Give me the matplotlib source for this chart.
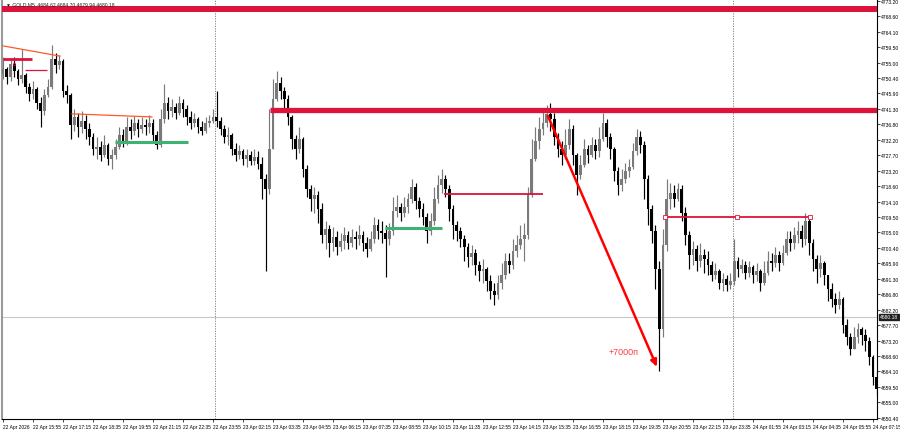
import matplotlib
matplotlib.use('Agg')
import matplotlib.pyplot as plt
from matplotlib.patches import FancyArrowPatch

plt.rcParams['font.family'] = ['Liberation Sans', 'DejaVu Sans']

# GOLD M5 chart, bars resampled to 10 min, prices
first_open = 4751.6
closes = [
    4753.1, 4750.7, 4754.6, 4752.5, 4750.2, 4751.3, 4747.8, 4745.7, 4747.2, 4743.1,
    4740.7, 4745.4, 4747.8, 4756.0, 4754.3, 4755.5, 4746.6, 4745.4, 4736.6, 4739.0,
    4736.0, 4737.8, 4735.4, 4733.1, 4729.6, 4730.1, 4727.8, 4730.7, 4726.6, 4727.8,
    4730.1, 4733.7, 4731.9, 4736.0, 4734.9, 4737.2, 4735.4, 4736.6, 4736.0, 4737.2,
    4733.7, 4730.7, 4738.4, 4743.1, 4740.7, 4741.9, 4740.2, 4743.1, 4741.3, 4739.0,
    4737.2, 4738.4, 4736.0, 4734.9, 4737.2, 4737.8, 4739.0, 4737.8, 4735.4, 4733.1,
    4733.7, 4729.6, 4727.8, 4729.0, 4726.6, 4727.8, 4726.0, 4727.2, 4725.1, 4720.7,
    4717.8, 4729.6, 4744.3, 4749.0, 4746.6, 4744.3, 4739.0, 4732.5, 4729.6, 4732.5,
    4723.7, 4717.8, 4714.8, 4716.0, 4711.9, 4704.3, 4706.0, 4701.9, 4703.7, 4700.7,
    4702.5, 4704.3, 4701.9, 4703.7, 4703.1, 4704.3, 4701.9, 4700.1, 4703.1, 4707.2,
    4705.4, 4704.8, 4703.1, 4705.4, 4711.3, 4712.5, 4710.7, 4712.5, 4714.8, 4718.4,
    4714.3, 4711.9, 4709.5, 4705.4, 4708.4, 4714.8, 4719.0, 4720.7, 4717.8, 4711.9,
    4707.2, 4705.4, 4703.1, 4700.7, 4697.8, 4699.0, 4695.4, 4693.7, 4694.2, 4690.7,
    4687.8, 4686.6, 4690.1, 4692.5, 4696.6, 4695.4, 4699.5, 4701.3, 4703.1, 4704.3,
    4716.0, 4726.6, 4731.9, 4735.4, 4737.2, 4739.9, 4738.4, 4733.1, 4729.6, 4727.8,
    4730.7, 4735.4, 4727.8, 4721.9, 4724.9, 4729.6, 4727.8, 4730.7, 4729.0, 4732.5,
    4737.2, 4733.1, 4729.6, 4723.1, 4719.0, 4720.7, 4723.1, 4724.3, 4729.0, 4733.1,
    4730.7, 4720.7, 4711.9, 4705.4, 4694.2, 4676.6, 4701.3, 4714.8, 4716.6, 4714.8,
    4717.8, 4710.7, 4704.3, 4698.4, 4700.1, 4696.6, 4698.4, 4697.2, 4695.4, 4692.5,
    4693.7, 4690.1, 4691.3, 4689.5, 4690.7, 4696.6, 4694.2, 4695.4, 4693.1, 4694.8,
    4692.5, 4693.7, 4690.1, 4693.1, 4696.6, 4696.0, 4698.4, 4696.0, 4699.0, 4703.1,
    4701.9, 4704.3, 4705.4, 4703.1, 4708.4, 4701.9, 4697.2, 4694.2, 4696.0, 4692.5,
    4688.4, 4685.4, 4683.6, 4685.4, 4677.8, 4674.2, 4670.7, 4674.2, 4676.6, 4674.8,
    4673.0, 4668.3, 4662.5, 4658.9,
]
highs = [
    4756.6, 4753.7, 4756.0, 4756.6, 4753.1, 4759.0, 4751.9, 4749.0, 4749.6, 4747.8,
    4744.9, 4747.2, 4750.2, 4760.2, 4757.8, 4757.2, 4756.0, 4748.4, 4746.0, 4741.3,
    4740.2, 4740.7, 4739.6, 4737.2, 4734.3, 4733.1, 4731.9, 4733.7, 4731.3, 4729.6,
    4732.5, 4736.0, 4735.4, 4739.0, 4738.4, 4739.3, 4738.4, 4739.0, 4738.4, 4739.6,
    4738.4, 4734.9, 4741.3, 4748.7, 4744.9, 4744.3, 4743.1, 4745.2, 4744.3, 4742.5,
    4740.7, 4740.2, 4739.0, 4737.8, 4739.0, 4739.6, 4741.3, 4746.6, 4739.0, 4736.6,
    4736.0, 4734.3, 4731.3, 4730.7, 4729.6, 4729.6, 4729.0, 4729.6, 4729.0, 4727.2,
    4722.2, 4741.3, 4750.2, 4752.5, 4750.7, 4747.8, 4745.4, 4739.6, 4733.7, 4736.0,
    4733.1, 4724.9, 4719.0, 4718.4, 4717.2, 4713.7, 4708.4, 4707.2, 4706.6, 4705.4,
    4704.8, 4706.6, 4705.4, 4706.0, 4705.4, 4707.2, 4705.4, 4703.7, 4705.4, 4709.5,
    4709.0, 4708.4, 4707.2, 4707.8, 4715.4, 4716.0, 4713.7, 4715.4, 4716.6, 4720.7,
    4719.6, 4715.4, 4713.7, 4710.7, 4710.7, 4718.4, 4721.9, 4723.7, 4721.9, 4719.0,
    4713.1, 4708.4, 4706.6, 4704.3, 4701.9, 4701.3, 4700.1, 4696.6, 4697.2, 4694.8,
    4692.5, 4690.1, 4692.5, 4696.0, 4699.0, 4699.0, 4703.1, 4704.3, 4707.2, 4707.8,
    4718.4, 4732.5, 4736.0, 4739.0, 4741.3, 4742.5, 4743.1, 4740.2, 4734.3, 4731.9,
    4735.4, 4738.4, 4736.6, 4728.4, 4727.8, 4732.5, 4730.7, 4733.1, 4732.5, 4736.0,
    4740.2, 4738.4, 4734.3, 4730.1, 4724.3, 4723.7, 4725.4, 4726.6, 4731.3, 4735.4,
    4734.9, 4731.9, 4721.9, 4713.1, 4707.2, 4696.6, 4706.0, 4720.7, 4719.6, 4719.0,
    4719.6, 4719.0, 4712.5, 4705.4, 4702.5, 4701.3, 4701.9, 4700.1, 4699.5, 4696.6,
    4696.0, 4694.2, 4693.1, 4692.5, 4693.1, 4703.1, 4697.8, 4697.2, 4696.6, 4696.6,
    4695.4, 4696.0, 4694.2, 4696.6, 4699.5, 4699.0, 4700.7, 4699.5, 4701.3, 4705.4,
    4705.4, 4706.6, 4708.4, 4707.2, 4710.7, 4709.5, 4703.1, 4698.4, 4698.4, 4696.6,
    4692.5, 4690.1, 4687.2, 4687.8, 4686.0, 4679.5, 4675.4, 4677.2, 4678.3, 4677.2,
    4676.6, 4674.2, 4668.9, 4664.2,
]
lows = [
    4750.2, 4748.7, 4749.6, 4750.7, 4748.4, 4749.0, 4746.0, 4743.7, 4744.3, 4741.3,
    4736.0, 4739.6, 4744.9, 4747.2, 4751.9, 4753.1, 4744.9, 4743.1, 4732.5, 4734.9,
    4733.1, 4734.3, 4732.5, 4730.7, 4727.8, 4726.6, 4726.0, 4727.2, 4724.9, 4723.7,
    4726.6, 4729.6, 4730.1, 4730.7, 4732.5, 4733.7, 4733.1, 4734.3, 4733.7, 4734.3,
    4731.9, 4729.6, 4730.1, 4737.2, 4738.4, 4739.0, 4738.4, 4739.6, 4739.0, 4736.6,
    4735.4, 4736.0, 4734.3, 4733.7, 4734.3, 4736.0, 4737.2, 4736.0, 4733.7, 4731.3,
    4730.7, 4727.8, 4726.0, 4726.6, 4724.9, 4724.3, 4724.9, 4724.9, 4723.7, 4714.8,
    4693.7, 4716.3, 4729.6, 4743.7, 4744.3, 4741.3, 4736.6, 4729.6, 4726.6, 4728.4,
    4721.3, 4715.4, 4711.3, 4710.7, 4707.8, 4701.9, 4700.1, 4697.8, 4699.5, 4698.4,
    4699.5, 4700.1, 4700.1, 4700.7, 4700.1, 4701.3, 4699.5, 4697.8, 4699.5, 4701.9,
    4703.1, 4701.9, 4691.9, 4701.3, 4704.3, 4709.5, 4708.4, 4709.5, 4710.7, 4713.7,
    4711.9, 4709.5, 4707.2, 4701.9, 4704.3, 4707.2, 4713.7, 4716.6, 4715.4, 4708.4,
    4703.1, 4702.5, 4700.7, 4696.6, 4694.8, 4695.4, 4692.5, 4690.7, 4690.1, 4687.8,
    4685.4, 4683.6, 4685.4, 4688.4, 4691.3, 4693.1, 4694.2, 4697.8, 4700.1, 4696.6,
    4703.1, 4715.4, 4726.0, 4729.6, 4733.7, 4736.0, 4734.9, 4730.7, 4727.2, 4724.9,
    4726.6, 4729.6, 4724.9, 4716.0, 4720.7, 4724.3, 4725.4, 4727.2, 4726.6, 4727.2,
    4731.9, 4730.1, 4726.6, 4720.1, 4716.0, 4717.2, 4719.6, 4721.3, 4723.7, 4727.8,
    4728.4, 4714.8, 4707.2, 4701.9, 4688.4, 4664.2, 4674.2, 4699.5, 4711.9, 4712.5,
    4714.3, 4708.4, 4701.3, 4694.2, 4695.4, 4693.7, 4694.8, 4693.1, 4692.5, 4690.7,
    4691.3, 4688.4, 4687.8, 4687.8, 4688.4, 4689.5, 4691.9, 4693.1, 4691.3, 4691.9,
    4690.1, 4690.7, 4687.8, 4689.5, 4692.5, 4693.7, 4694.8, 4693.7, 4695.4, 4698.4,
    4699.5, 4700.1, 4701.9, 4700.7, 4701.3, 4698.4, 4693.7, 4690.1, 4691.9, 4689.5,
    4684.8, 4683.1, 4681.3, 4682.5, 4675.4, 4671.9, 4668.9, 4670.7, 4672.5, 4671.9,
    4670.1, 4666.0, 4660.1, 4657.2,
]

time_labels = ['22 Apr 2026', '22 Apr 15:55', '22 Apr 17:15', '22 Apr 18:35', '22 Apr 19:55',
               '22 Apr 21:15', '22 Apr 22:35', '22 Apr 23:55', '23 Apr 02:15', '23 Apr 03:35',
               '23 Apr 04:55', '23 Apr 06:15', '23 Apr 07:35', '23 Apr 08:55', '23 Apr 10:15',
               '23 Apr 11:35', '23 Apr 12:55', '23 Apr 14:15', '23 Apr 15:35', '23 Apr 16:55',
               '23 Apr 18:15', '23 Apr 19:35', '23 Apr 20:55', '23 Apr 22:15', '23 Apr 23:35',
               '24 Apr 01:55', '24 Apr 03:15', '24 Apr 04:35', '24 Apr 05:55', '24 Apr 07:15']
price_ticks = [4773.20, 4768.60, 4764.10, 4759.50, 4755.00, 4750.40, 4745.90, 4741.30,
               4736.80, 4732.20, 4727.70, 4723.20, 4718.60, 4714.10, 4709.50, 4705.00,
               4700.40, 4695.90, 4691.30, 4686.80, 4682.20, 4677.70, 4673.20, 4668.60,
               4664.10, 4659.50, 4655.00, 4650.40]
last_price = 4680.18
header = '\u25bc GOLD,M5  4684.62 4684.70 4679.94 4680.18'

opens = [first_open] + closes[:-1]
n = len(closes)
idx = list(range(n))

fig = plt.figure(figsize=(9, 4.31), dpi=100)
ax = fig.add_axes([2 / 900, 11 / 431, 875 / 900, 420 / 431])
ax.set_xlim(-0.27, 233.07)
ax.set_ylim(4650.1, 4773.7)

# candles
bull = '#7a7a7a'
bear = '#000000'
for i in idx:
    o, c = opens[i], closes[i]
    col = bull if c >= o else bear
    top = max(highs[i], o, c)
    bot = min(lows[i], o, c)
    ax.vlines(i, bot, top, colors=col, lw=0.85, zorder=3)
    h = abs(c - o)
    if h < 0.3:
        h = 0.3
    ax.bar(i, h, bottom=min(o, c), width=0.7, color=col, lw=0, zorder=3)

# day separators and bid line
ax.axvline(56.5, color='#777777', ls=(0, (1.5, 1.5)), lw=0.6, zorder=1)
ax.axvline(194.6, color='#777777', ls=(0, (1.5, 1.5)), lw=0.6, zorder=1)
ax.axhline(last_price, color='#c8c8c8', lw=0.8, zorder=1)

crimson = '#dc143c'
# levels
ax.axhspan(4769.8, 4771.55, color=crimson, lw=0, zorder=4)
ax.hlines(4741.0, 71.2, 233.07, colors=crimson, lw=3.8, zorder=4)
ax.hlines(4756.0, 0, 7.7, colors=crimson, lw=2.0, zorder=4)
ax.hlines(4752.8, 5.9, 11.7, colors=crimson, lw=0.9, zorder=4)
ax.plot([3], [4754.6], marker='s', ms=2, mfc='none', mec=crimson, mew=0.5, zorder=5)
ax.hlines(4716.3, 117.6, 144, colors=crimson, lw=1.3, zorder=4)
ax.hlines(4709.4, 176.5, 215.2, colors=crimson, lw=1.3, zorder=4)
ax.plot([176.5, 195.8, 215.2], [4709.4] * 3, ls='none', marker='s', ms=2.2,
        mfc='white', mec=crimson, mew=0.6, zorder=5)

# trend lines
ax.plot([0, 15.2], [4759.9, 4756.9], color='#ff5a28', lw=0.9, zorder=4)
ax.plot([18.4, 39.7], [4739.9, 4739.0], color='#ff5a28', lw=0.9, zorder=4)
ax.hlines(4731.6, 29.9, 49.3, colors='#3cb371', lw=2.2, zorder=4)
ax.hlines(4706.3, 101.9, 117.1, colors='#3cb371', lw=2.2, zorder=4)

# move arrow
arr = FancyArrowPatch((145.3, 4739.3), (174.4, 4665.4), arrowstyle='-|>,head_length=4,head_width=1.8',
                      color='#ff0000', lw=1.8, zorder=6, shrinkA=0, shrinkB=0)
ax.add_patch(arr)
ax.text(161.5, 4670.1, '+7000п', color='#ff3c3c', fontsize=6.5, ha='left', va='center', zorder=6)

# axes styling
ax.spines['top'].set_visible(False)
ax.spines['left'].set_color('#9a9a9a')
ax.spines['left'].set_linewidth(1.5)
ax.spines['right'].set_linewidth(0.8)
ax.spines['bottom'].set_linewidth(0.8)

ax.yaxis.tick_right()
ax.set_yticks(price_ticks)
ax.set_yticklabels(['%.2f' % p for p in price_ticks])
ax.tick_params(axis='y', length=2, width=0.5, labelsize=3.6, pad=1)
ax.set_xticks([8 * i for i in range(len(time_labels))])
ax.set_xticklabels(time_labels, ha='left')
ax.tick_params(axis='x', length=2, width=0.5, labelsize=3.5, pad=1.5)

ax.annotate('%.2f' % last_price, xy=(1.0, last_price), xycoords=('axes fraction', 'data'),
            xytext=(2, 0), textcoords='offset points', fontsize=3.6, color='white',
            va='center', ha='left', zorder=7,
            bbox=dict(boxstyle='square,pad=0.15', fc='#202020', ec='#202020'), annotation_clip=False)

fig.text(6 / 900, 1 - 5 / 431, header, fontsize=3.6, va='center', ha='left', color='#202020')

fig.savefig('out.png', dpi=100)
